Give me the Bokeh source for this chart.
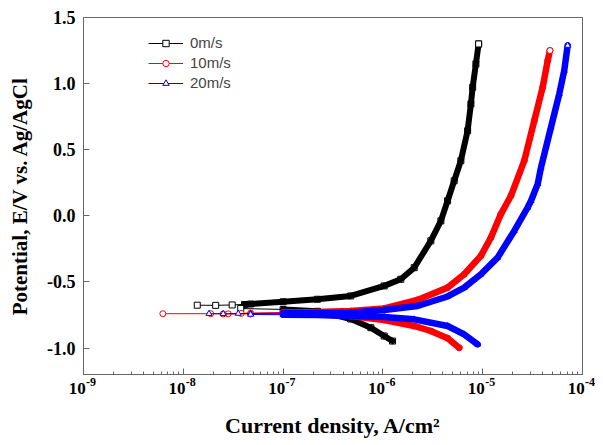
import numpy as np
from bokeh.plotting import figure
from bokeh.models import (FixedTicker, Legend, LegendItem, CustomJSTickFormatter, Range1d,
                          NumeralTickFormatter, LogAxis)
from bokeh.embed import file_html
from bokeh.resources import INLINE

# ---------------- data ----------------
series_labels = ["0m/s", "10m/s", "20m/s"]

# 0 m/s
i0_anodic = [1.38e-8, 2.11e-8, 3.09e-8, 4.10e-8, 4.73e-8, 1.00e-7, 2.21e-7, 4.76e-7, 1.03e-6,
             1.51e-6, 2.06e-6, 3.02e-6, 3.81e-6, 4.45e-6, 5.18e-6, 6.04e-6, 7.06e-6, 7.62e-6,
             7.93e-6, 8.55e-6, 9.10e-6]
E0_anodic = [-0.676, -0.677, -0.674, -0.670, -0.667, -0.650, -0.631, -0.606, -0.530,
             -0.480, -0.392, -0.189, -0.038, 0.114, 0.265, 0.417, 0.644, 0.846,
             0.972, 1.149, 1.300]
i0_cathodic = [3.76e-8, 1.00e-7, 2.21e-7, 3.30e-7, 4.76e-7, 7.57e-7, 1.03e-6, 1.25e-6]
E0_cathodic = [-0.701, -0.708, -0.722, -0.750, -0.780, -0.846, -0.909, -0.947]

# 10 m/s
i10_anodic = [6.24e-9, 1.88e-8, 2.82e-8, 3.80e-8, 4.73e-8, 1.00e-7, 2.21e-7, 4.76e-7, 1.03e-6,
              2.22e-6, 4.45e-6, 6.52e-6, 9.59e-6, 1.21e-5, 1.52e-5, 1.92e-5, 2.61e-5, 3.29e-5,
              3.99e-5, 4.48e-5, 4.72e-5]
E10_anodic = [-0.740, -0.740, -0.741, -0.738, -0.735, -0.731, -0.727, -0.720, -0.701,
              -0.636, -0.543, -0.442, -0.303, -0.164, 0.013, 0.152, 0.417, 0.720,
              0.972, 1.174, 1.250]
i10_cathodic = [2.51e-8, 4.73e-8, 1.00e-7, 2.21e-7, 4.76e-7, 1.03e-6, 2.06e-6, 3.02e-6, 4.45e-6, 5.81e-6]
E10_cathodic = [-0.742, -0.742, -0.744, -0.746, -0.758, -0.788, -0.833, -0.871, -0.925, -0.998]

# 20 m/s
i20_anodic = [1.81e-8, 2.51e-8, 3.55e-8, 4.73e-8, 1.00e-7, 2.21e-7, 4.76e-7, 1.03e-6, 2.22e-6,
              4.45e-6, 6.52e-6, 9.59e-6, 1.41e-5, 2.07e-5, 2.82e-5, 3.05e-5, 3.56e-5, 3.84e-5,
              4.83e-5, 5.85e-5, 6.56e-5, 7.10e-5]
E20_anodic = [-0.740, -0.741, -0.739, -0.739, -0.737, -0.735, -0.733, -0.712, -0.682,
              -0.610, -0.543, -0.442, -0.316, -0.114, 0.063, 0.114, 0.242, 0.366,
              0.669, 0.922, 1.098, 1.288]
i20_cathodic = [4.73e-8, 1.00e-7, 2.21e-7, 4.76e-7, 1.03e-6, 2.06e-6, 4.45e-6, 6.52e-6, 8.89e-6]
E20_cathodic = [-0.746, -0.748, -0.750, -0.758, -0.765, -0.783, -0.833, -0.896, -0.972]

x_tick_exponents = [-9, -8, -7, -6, -5, -4]
y_ticks = [-1.0, -0.5, 0.0, 0.5, 1.0, 1.5]

# ---------------- styles ----------------
colors = ["#000000", "#FF0000", "#0000FF"]
markers = ["square", "circle", "triangle"]
dense_from = [4.0e-8, 1.0e-7, 1.0e-7]
band_width = [6, 6.5, 6.5]
SERIF = "Liberation Serif"
AXIS_GREY = "#666666"

p = figure(width=603, height=445, x_axis_type="log",
           x_range=Range1d(10.0 ** x_tick_exponents[0], 10.0 ** x_tick_exponents[-1]),
           y_range=Range1d(-1.2, 1.5),
           output_backend="svg", toolbar_location=None,
           min_border_left=83, min_border_right=21, min_border_top=17, min_border_bottom=71)
p.grid.visible = False
p.outline_line_color = AXIS_GREY
p.outline_line_width = 1

series = [
    (i0_anodic, E0_anodic, i0_cathodic, E0_cathodic),
    (i10_anodic, E10_anodic, i10_cathodic, E10_cathodic),
    (i20_anodic, E20_anodic, i20_cathodic, E20_cathodic),
]

legend_items = []
for k, (ia, Ea, ic, Ec) in enumerate(series):
    c = colors[k]
    first = None
    for ii, EE in ((ia, Ea), (ic, Ec)):
        ii = np.array(ii)
        EE = np.array(EE)
        lr = p.line(ii, EE, line_color=c, line_width=1)
        sr = p.scatter(ii, EE, marker=markers[k], size=6, line_color=c, fill_color="white", line_width=1)
        if first is None:
            first = (lr, sr)
        m = ii >= dense_from[k]
        p.line(ii[m], EE[m], line_color=c, line_width=band_width[k], line_join="round", line_cap="round")
    # hollow marker at the top end of the anodic branch
    p.scatter([ia[-1]], [Ea[-1]], marker=markers[k], size=6, line_color=c, fill_color="white", line_width=1)
    legend_items.append(LegendItem(label=series_labels[k], renderers=list(first)))

legend = Legend(items=legend_items, location=(65, 283), border_line_color=None,
                background_fill_alpha=0, padding=0, margin=0, spacing=3,
                glyph_width=35, glyph_height=16, label_height=16, label_standoff=7,
                label_text_font="Liberation Sans", label_text_font_size="15px")
p.add_layout(legend)

# ---------------- axes ----------------
major_x = [10.0 ** e for e in x_tick_exponents]
minor_x = [m * 10.0 ** e for e in x_tick_exponents[:-1] for m in range(2, 10)]

# axis next to the frame: ticks and the raised exponents
xa = p.xaxis[0]
xa.ticker = FixedTicker(ticks=major_x, minor_ticks=minor_x)
xa.formatter = CustomJSTickFormatter(
    code="return '\\u00a0\\u00a0\\u00a0\\u00a0\\u00a0' + String(Math.round(Math.log10(tick)));")
xa.major_tick_in = 6
xa.major_tick_out = 0
xa.minor_tick_in = 3
xa.minor_tick_out = 0
xa.major_label_standoff = 0
xa.major_label_text_font_size = "12px"

# second axis below it: the "10" bases and the axis title
xb = LogAxis(ticker=FixedTicker(ticks=major_x, minor_ticks=[]),
             formatter=CustomJSTickFormatter(code="return '10\\u00a0\\u00a0\\u00a0';"))
xb.axis_line_color = None
xb.major_tick_line_color = None
xb.minor_tick_line_color = None
xb.major_label_standoff = -19
xb.major_label_text_font_size = "17px"
xb.axis_label = "Current density, A/cm\u00b2"
xb.axis_label_text_font_size = "22px"
xb.axis_label_standoff = 12
p.add_layout(xb, "below")

p.yaxis.ticker = FixedTicker(ticks=y_ticks, minor_ticks=[])
p.yaxis.major_tick_in = 6
p.yaxis.major_tick_out = 0
p.yaxis.minor_tick_in = 0
p.yaxis.minor_tick_out = 0
p.yaxis.major_label_standoff = 8
p.yaxis.major_label_text_font_size = "18px"
p.yaxis.axis_label = "Potential, E/V vs. Ag/AgCl"
p.yaxis.axis_label_text_font_size = "21px"
p.yaxis.axis_label_standoff = 12
p.yaxis.formatter = NumeralTickFormatter(format="0.0")

for ax in (xa, xb, p.yaxis[0]):
    if ax is not xb:
        ax.axis_line_color = AXIS_GREY
        ax.major_tick_line_color = AXIS_GREY
        ax.minor_tick_line_color = AXIS_GREY
    ax.major_label_text_font = SERIF
    ax.major_label_text_font_style = "bold"
    ax.major_label_text_color = "black"
    ax.axis_label_text_font = SERIF
    ax.axis_label_text_font_style = "bold"
    ax.axis_label_text_color = "black"

open("out.html", "w").write(file_html(p, INLINE))
